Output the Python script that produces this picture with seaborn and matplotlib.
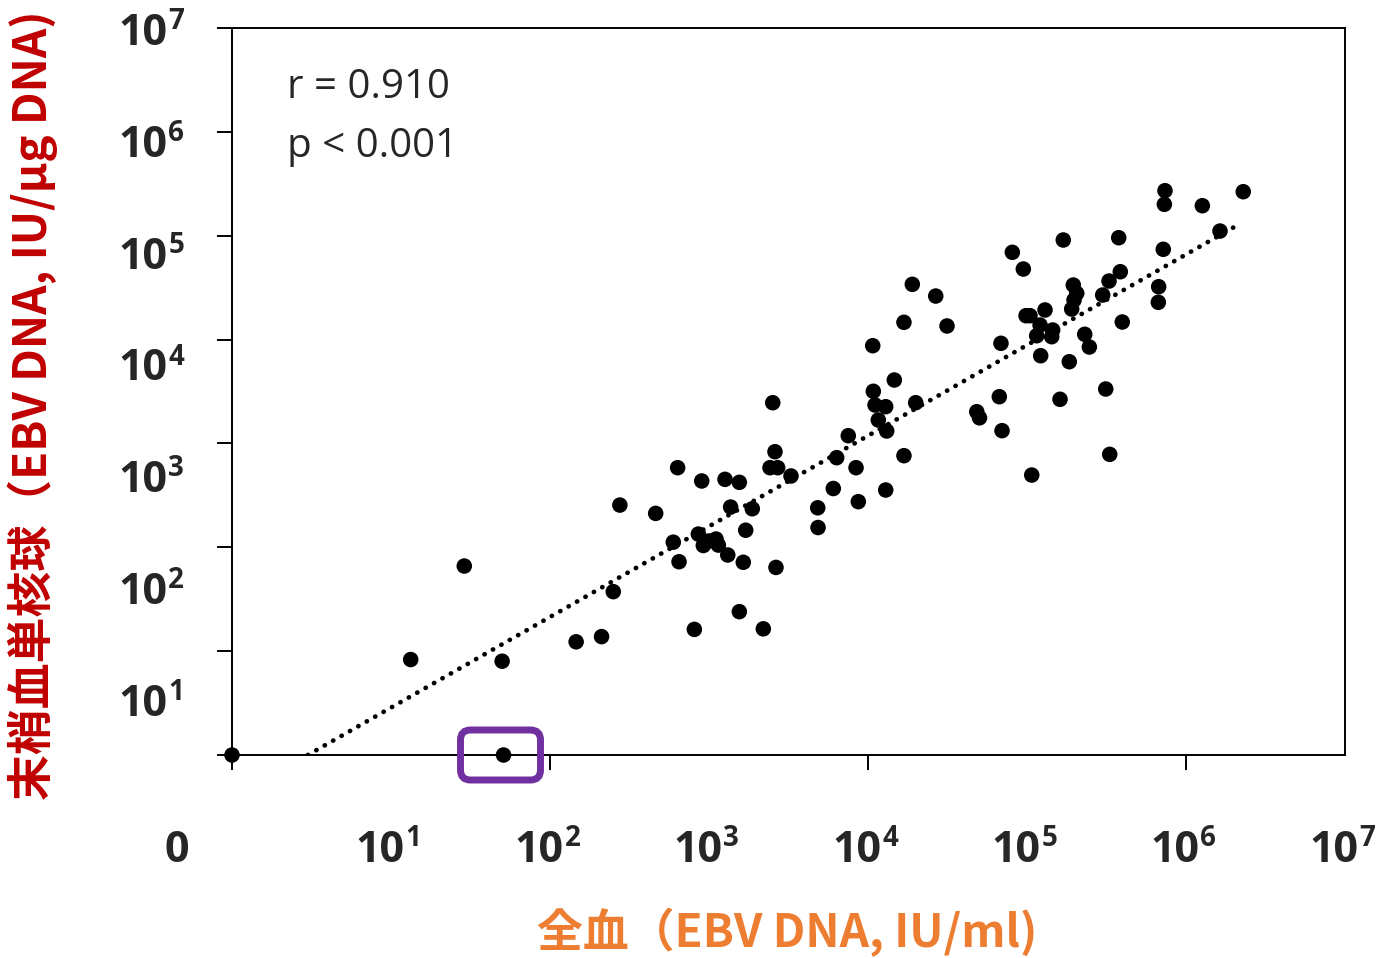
import numpy as np
import pandas as pd
import matplotlib
matplotlib.use('Agg')
import matplotlib.pyplot as plt
import seaborn as sns
from matplotlib.patches import FancyBboxPatch
from matplotlib.transforms import IdentityTransform, offset_copy, blended_transform_factory

# %% データ: 全血 (x) と 末梢血単核球 (y) の EBV DNA 量  (0 は原点に表示)
whole_blood = [0, 51, 13.3, 28.9, 50, 146, 211, 250, 275, 462,
               596, 635, 648, 809, 900, 857, 921, 1000, 1107, 1145,
               1261, 1312, 1368, 1552, 1552, 1643, 1702, 1872, 2196, 2419,
               2517, 2600, 2638, 2704, 3279, 4828, 4850, 6050, 6353, 7516,
               8409, 8690, 10710, 10800, 11070, 11610, 12920, 12920, 13110, 14640,
               16830, 16830, 19000, 19950, 26670, 31400, 48300, 50250, 66970, 68580,
               69660, 80870, 94830, 98600, 104400, 107100, 115100, 120800, 121900, 129800,
               145100, 143000, 161300, 169100, 184500, 191000, 195500, 205500, 197600, 230700,
               246600, 299300, 312700, 328000, 331300, 377400, 386200, 397400, 673200, 669800,
               719600, 731000, 737500, 1267000, 1636000, 2291000]
pbmc = [0, 0, 8.3, 66, 8.0, 12.3, 13.8, 37.4, 255, 212,
        112, 584, 72.6, 16.2, 435, 134, 104, 115, 120, 105,
        451, 84.3, 244, 422, 24, 71.7, 146, 235, 16.4, 584,
        2466, 832, 64, 584, 486, 240, 155, 368, 729, 1187,
        584, 275, 8730, 3177, 2344, 1681, 2258, 356, 1318, 4080,
        14660, 762, 34040, 2466, 26250, 13520, 2020, 1765, 2818, 9205,
        1327, 69200, 47780, 16980, 16980, 496, 10890, 13800, 6990, 19270,
        12360, 10660, 2660, 90930, 6120, 19690, 33500, 27890, 24040, 11240,
        8480, 26860, 3342, 36620, 785, 95660, 45000, 14760, 32290, 22850,
        73960, 200500, 271300, 194500, 110900, 265300]

# 回帰直線 (点線) の両端
trend_x = [3.0, 2.08e6]
trend_y = [1.0, 1.25e5]

# 枠で囲む点
highlight = (51, 0)

exponents = ['1', '2', '3', '4', '5', '6', '7']
stats_text = ['r = 0.910', 'p < 0.001']
xlabel = '全血（EBV DNA, IU/ml)'
ylabel = '末梢血単核球（EBV DNA, IU/μg DNA)'

# %% スタイル
sns.set_style('white')
plt.rcParams['font.family'] = ['Open Sans', 'Noto Sans CJK JP', 'DejaVu Sans']

df = pd.DataFrame({'wb': whole_blood, 'pbmc': pbmc})
# 0 は対数軸の原点 (10^0) に置く
df['x'] = df['wb'].replace(0, 1)
df['y'] = df['pbmc'].replace(0, 1)

W, H = 1387, 958
fig = plt.figure(figsize=(W / 100, H / 100), dpi=100)
ax = fig.add_axes([232 / W, 1 - 755 / H, 1113 / W, 727 / H])
ax.set_xscale('log')
ax.set_yscale('log')

sns.scatterplot(data=df, x='x', y='y', ax=ax, color='black', s=125,
                edgecolor='none', clip_on=False, zorder=3, legend=False)
sns.lineplot(x=trend_x, y=trend_y, ax=ax, color='black', lw=3.4,
             linestyle=(0, (0.05, 2.0)), dash_capstyle='round', zorder=2)

ax.set_xlim(1, 1e7)
ax.set_ylim(1, 1e7)
ax.set_xlabel('')
ax.set_ylabel('')
ax.set_xticks([1, 1e2, 1e4, 1e6])
ax.set_yticks([10.0 ** i for i in range(8)])
ax.set_xticklabels([])
ax.set_yticklabels([])
ax.minorticks_off()
ax.tick_params(axis='both', which='major', direction='out', length=11,
               width=1.4, color='black', bottom=True, left=True)
for sp in ax.spines.values():
    sp.set_visible(True)
    sp.set_color('black')
    sp.set_linewidth(1.4)


def power_label(x, y, exp, trans):
    ax.text(x, y, '10', transform=trans, ha='right', va='baseline',
            fontsize=31, fontweight='bold', clip_on=False)
    ax.text(x, y, exp, transform=offset_copy(trans, fig=fig, x=1, y=11.5, units='points'),
            ha='left', va='baseline', fontsize=20, fontweight='bold', clip_on=False)


# y 軸の目盛ラベル (元図と同じく均等に配置)
y_base_px = np.linspace(716, 45, 7)
for exp, py in zip(exponents, y_base_px):
    power_label((167 - 232) / 1113, (755 - py) / 727, exp, ax.transAxes)

# x 軸の目盛ラベル
xtrans = offset_copy(blended_transform_factory(ax.transData, ax.transAxes),
                     fig=fig, x=9.4, units='points')
for exp in exponents:
    power_label(10.0 ** int(exp), (755 - 862) / 727, exp, xtrans)
ax.text((177 - 232) / 1113, (755 - 862) / 727, '0', transform=ax.transAxes,
        ha='center', va='baseline', fontsize=31, fontweight='bold')

# 相関係数
ax.text((287 - 232) / 1113, (755 - 98) / 727, stats_text[0], transform=ax.transAxes,
        ha='left', va='baseline', fontsize=29)
ax.text((287 - 232) / 1113, (755 - 157) / 727, stats_text[1], transform=ax.transAxes,
        ha='left', va='baseline', fontsize=29)

# 軸タイトル
fig.text(33 / W, 1 - 405 / H, ylabel, rotation=90, ha='center', va='center',
         color='#C00000', fontsize=33, fontweight='bold', family='Noto Sans CJK JP')
fig.text(787 / W, 1 - 932 / H, xlabel, ha='center', va='center',
         color='#ED7D31', fontsize=33, fontweight='bold', family='Noto Sans CJK JP')

# 紫の枠
hx = highlight[0] if highlight[0] > 0 else 1
hy = highlight[1] if highlight[1] > 0 else 1
px, py = ax.transData.transform((hx, hy))
box = FancyBboxPatch((px - 43, py - 25), 80, 50,
                     boxstyle='round,pad=0,rounding_size=10',
                     transform=IdentityTransform(), fill=False,
                     edgecolor='#7030A0', linewidth=5, zorder=5)
fig.add_artist(box)

fig.savefig('out.png', dpi=100)
